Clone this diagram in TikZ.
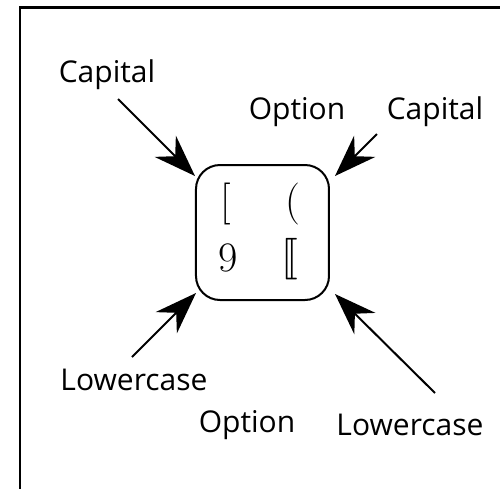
\documentclass[tikz,border=0pt]{standalone}
\usepackage{fontspec}
\usepackage{stmaryrd}
\usetikzlibrary{arrows.meta}
\newfontfamily\labelfont{Open Sans}

\tikzset{
  lbl/.style={font=\labelfont\fontsize{15}{18}\selectfont, inner sep=0pt},
  glyph/.style={font=\fontsize{21}{24}\selectfont, inner sep=0pt},
  keyarrow/.style={line width=1pt, -{Stealth[length=21pt,width=15pt,inset=7pt]}}
}

\begin{document}
\begin{tikzpicture}[x=0.5pt, y=-0.5pt]
\useasboundingbox (0,0) rectangle (500,489);
\draw[line width=1.3pt] (20,495) -- (20,7.5) -- (505,7.5);

\node[draw, line width=1pt, rounded corners=12pt, minimum width=66.5pt, minimum height=67.5pt] (key) at (262.5,232.5) {};
\node[glyph] (k1) at (226,204) {[};
\node[glyph] (k2) at (293,204) {(};
\node[glyph] (k3) at (228,258) {9};
\node[glyph] (k4) at (290,259) {$\llbracket$};

\node[lbl] (capl) at (107,75) {Capital};
\node[lbl] (optt) at (297,112) {Option};
\node[lbl] (capr) at (435,112) {Capital};
\node[lbl] (lowl) at (134,380) {Lowercase};
\node[lbl] (optb) at (247,425) {Option};
\node[lbl] (lowr) at (410,425) {Lowercase};

\coordinate (a1) at (118,99);
\coordinate (a2) at (377,134);
\coordinate (a3) at (132,357);
\coordinate (a4) at (435,393);
\coordinate (t1) at (195,176);
\coordinate (t2) at (335,176);
\coordinate (t3) at (196,293);
\coordinate (t4) at (335,294);

\draw[keyarrow] (a1) -- (t1);
\draw[keyarrow] (a2) -- (t2);
\draw[keyarrow] (a3) -- (t3);
\draw[keyarrow] (a4) -- (t4);
\end{tikzpicture}
\end{document}
